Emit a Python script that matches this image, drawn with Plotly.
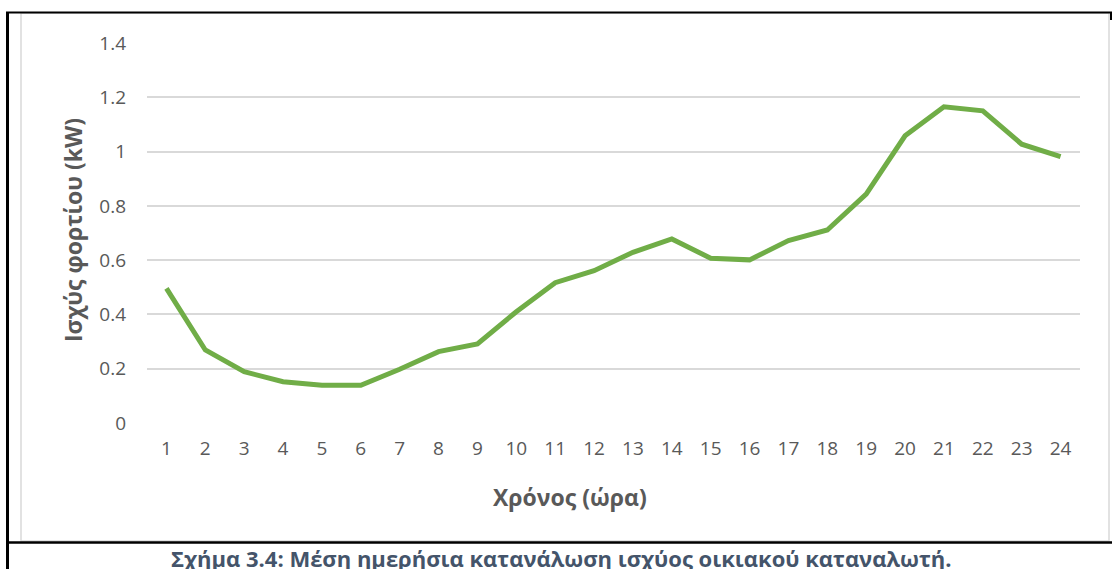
import plotly.graph_objects as go

hours = list(range(1, 25))
load_kw = [0.496, 0.269, 0.189, 0.152, 0.139, 0.139, 0.198, 0.263, 0.291, 0.41,
           0.517, 0.561, 0.629, 0.678, 0.607, 0.601, 0.672, 0.711, 0.843, 1.058,
           1.165, 1.15, 1.027, 0.981]
y_ticks = [0, 0.2, 0.4, 0.6, 0.8, 1.0, 1.2, 1.4]
y_ticktext = ["0", "0.2", "0.4", "0.6", "0.8", "1", "1.2", "1.4"]

x_title = "Χρόνος (ώρα)"
y_title = "Ισχύς φορτίου (kW)"
caption = "Σχήμα 3.4: Μέση ημερήσια κατανάλωση ισχύος οικιακού καταναλωτή."

W, H = 1112, 569
def px(x):
    return x / W
def py(y):
    return 1 - y / H

FONT = "Open Sans"
GRAY = "#595959"

fig = go.Figure()
fig.add_trace(go.Scatter(
    x=hours, y=load_kw, mode="lines",
    line=dict(color="#70AD47", width=5),
    hoverinfo="x+y", showlegend=False,
))

shapes = [
    dict(type="rect", xref="paper", yref="paper",
         x0=px(21), x1=px(1109), y0=py(541), y1=py(13),
         line=dict(color="#D9D9D9", width=1.5), layer="below"),
    dict(type="line", xref="paper", yref="paper",
         x0=px(6), x1=px(1112), y0=py(12.5), y1=py(12.5),
         line=dict(color="black", width=2)),
    dict(type="line", xref="paper", yref="paper",
         x0=px(7.5), x1=px(7.5), y0=py(12), y1=py(569),
         line=dict(color="black", width=3)),
    dict(type="line", xref="paper", yref="paper",
         x0=px(1111), x1=px(1111), y0=py(12), y1=py(20),
         line=dict(color="black", width=2)),
    dict(type="line", xref="paper", yref="paper",
         x0=px(6), x1=px(1112), y0=py(542.5), y1=py(542.5),
         line=dict(color="black", width=2.5)),
]

annotations = [
    dict(text=x_title, xref="paper", yref="paper", x=px(570), y=py(497),
         xanchor="center", yanchor="middle", showarrow=False,
         font=dict(family=FONT, size=23, color=GRAY, weight="bold")),
    dict(text=y_title, xref="paper", yref="paper", x=px(73), y=py(230),
         xanchor="center", yanchor="middle", showarrow=False, textangle=-90,
         font=dict(family=FONT, size=23, color=GRAY, weight="bold")),
    dict(text=caption, xref="paper", yref="paper", x=px(561), y=py(575),
         xanchor="center", yanchor="bottom", showarrow=False,
         font=dict(family=FONT, size=22, color="#44546A", weight="bold")),
]

fig.update_layout(
    width=W, height=H,
    margin=dict(l=0, r=0, t=0, b=0, pad=0, autoexpand=False),
    paper_bgcolor="white", plot_bgcolor="white",
    font=dict(family=FONT, size=19, color=GRAY),
    shapes=shapes, annotations=annotations,
    showlegend=False,
    xaxis=dict(domain=[px(147), px(1080)], range=[0.5, 24.5], automargin=False,
               tickmode="array", tickvals=hours, ticktext=[str(h) for h in hours],
               showgrid=False, zeroline=False, showline=False, ticks="",
               ticklabelstandoff=12, tickfont=dict(size=19, color=GRAY)),
    yaxis=dict(domain=[py(423), py(43)], range=[0, 1.4], automargin=False,
               tickmode="array", tickvals=y_ticks, ticktext=y_ticktext,
               showgrid=True, gridcolor="#D9D9D9", gridwidth=1.5,
               zeroline=False, showline=False, ticks="",
               ticklabelstandoff=20, tickfont=dict(size=19, color=GRAY)),
)

fig.write_html(
    "out.html",
    config={"displayModeBar": False},
    post_script="document.body.style.margin='0';document.body.style.overflow='hidden';",
)
